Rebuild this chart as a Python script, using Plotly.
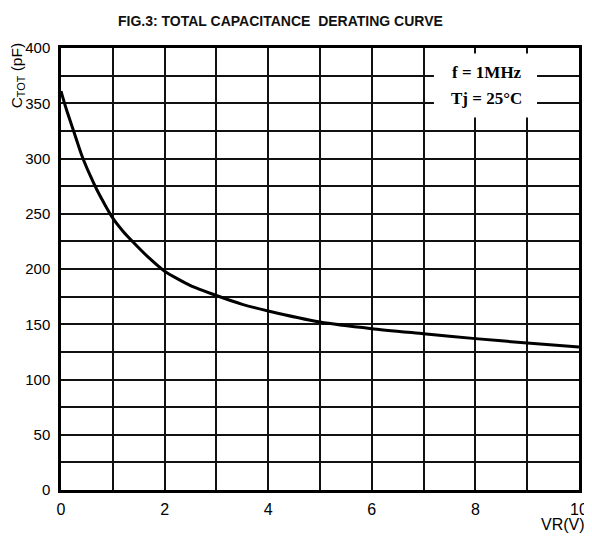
import plotly.graph_objects as go

# Data
vr = [0, 0.1, 0.25, 0.4, 0.55, 0.7, 0.85, 1.0, 1.2, 1.4, 1.7, 2.0, 2.5, 3, 3.5, 4, 5, 6, 7, 8, 9, 10]
ctot = [361, 345, 324, 303, 286, 271, 258, 246, 234, 224, 210, 198, 185, 176, 168, 162, 152, 146, 141.5, 137, 133, 129.5]

x_ticks = [0, 2, 4, 6, 8, 10]
y_ticks = [0, 50, 100, 150, 200, 250, 300, 350, 400]

title_text = "FIG.3: TOTAL CAPACITANCE&nbsp;&nbsp;DERATING CURVE"
note_lines = ["f = 1MHz", "Tj = 25°C"]

fig = go.Figure()
fig.add_trace(go.Scatter(
    x=vr, y=ctot, mode="lines",
    line=dict(color="black", width=3, shape="spline", smoothing=0.6),
    showlegend=False, hoverinfo="skip",
))

fig.add_shape(type="rect", xref="x", yref="y", x0=7.2, x1=9.19, y0=337, y1=395,
              fillcolor="white", line=dict(width=0), layer="between")

fig.add_annotation(x=8.22, y=378, xref="x", yref="y", text="<b>" + note_lines[0] + "</b>",
                   showarrow=False, font=dict(family="Liberation Serif", size=17, color="black"))
fig.add_annotation(x=8.22, y=354.5, xref="x", yref="y", text="<b>" + note_lines[1] + "</b>",
                   showarrow=False, font=dict(family="Liberation Serif", size=17, color="black"))

# y-axis title (placed near the top like the reference)
fig.add_annotation(x=-0.085, y=0.938, xref="paper", yref="paper", text="C<sub>TOT</sub> (pF)",
                   showarrow=False, textangle=-90, xanchor="center", yanchor="middle",
                   font=dict(family="Liberation Sans", size=15.5, color="black"))

# chart title
fig.add_annotation(x=0.4247, y=1.062, xref="paper", yref="paper", text="<b>" + title_text + "</b>",
                   showarrow=False, xanchor="center", yanchor="middle",
                   font=dict(family="Liberation Sans", size=14, color="#111"))

# x-axis title
fig.add_annotation(x=1.0154, y=-0.079, xref="paper", yref="paper", text="VR(V)", showarrow=False,
                   xanchor="right", yanchor="middle",
                   font=dict(family="Liberation Sans", size=16, color="black"))

# the page body adds an 8px margin, so the figure is sized to fill the window after it
fig.update_layout(
    width=584, height=531,
    margin=dict(l=53, r=13, t=40, b=49, autoexpand=False),
    paper_bgcolor="white", plot_bgcolor="white",
    font=dict(family="Liberation Sans", size=14, color="black"),
)

fig.update_xaxes(
    range=[0, 10], tickvals=x_ticks, ticktext=[str(v) for v in x_ticks],
    showgrid=True, gridcolor="#111", gridwidth=1.5,
    minor=dict(dtick=1, showgrid=True, gridcolor="#111", gridwidth=1.5),
    showline=True, linecolor="black", linewidth=2.5, mirror=True,
    ticks="", zeroline=False, tickfont=dict(size=16), automargin=False,
    ticklabelstandoff=3,
)
fig.update_yaxes(
    range=[0, 400], tickvals=y_ticks, ticktext=[str(v) for v in y_ticks],
    showgrid=True, gridcolor="#111", gridwidth=2,
    minor=dict(dtick=25, showgrid=True, gridcolor="#111", gridwidth=1.5),
    showline=True, linecolor="black", linewidth=2.5, mirror=True,
    ticks="", zeroline=False, tickfont=dict(size=15), automargin=False,
    ticklabelstandoff=5,
)

fig.write_html("out.html")
